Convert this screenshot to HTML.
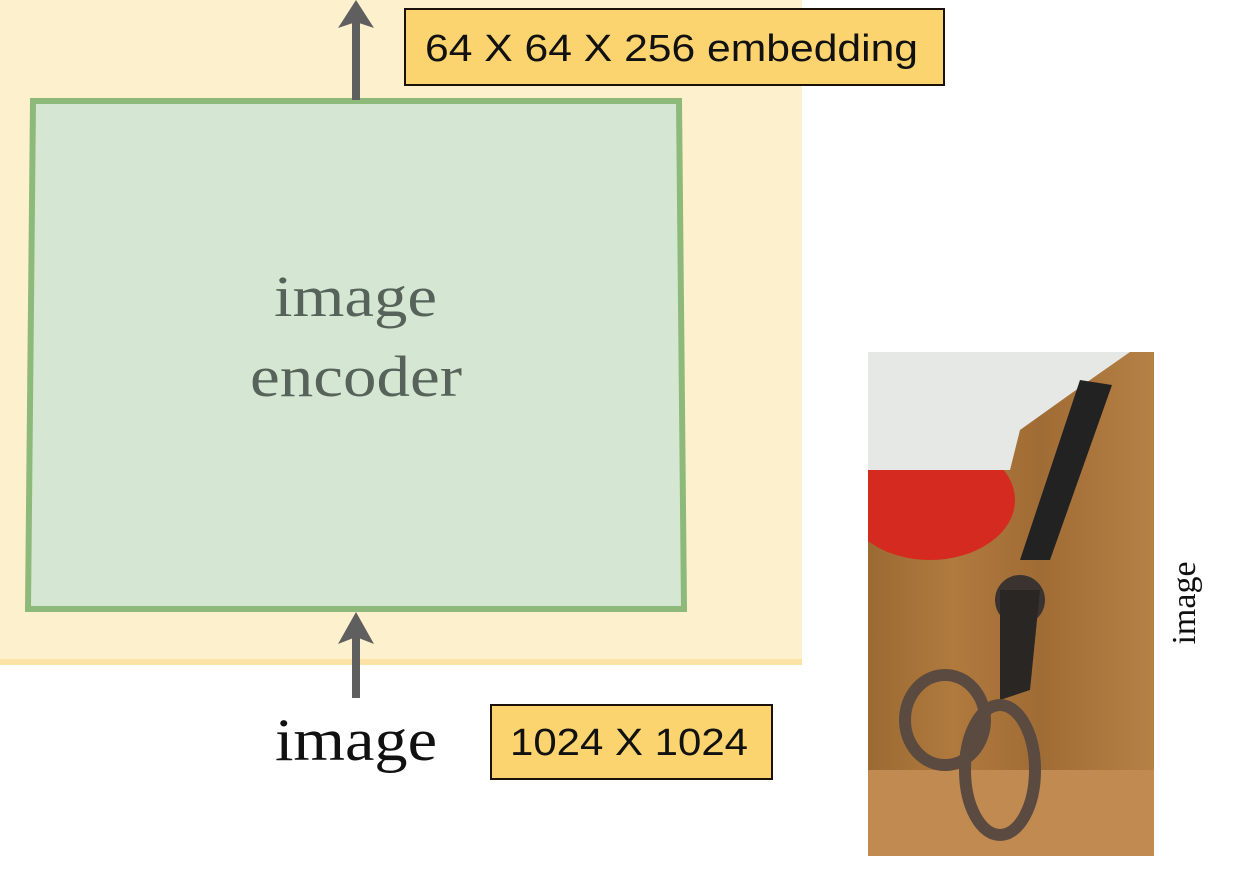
<!DOCTYPE html>
<html><head><style>
html,body{margin:0;padding:0;background:#fff;width:1246px;height:880px;overflow:hidden}
</style></head><body>
<svg width="1246" height="880" viewBox="0 0 1246 880" xmlns="http://www.w3.org/2000/svg">
<rect x="0" y="0" width="802" height="664" fill="#fdf0cc"/>
<rect x="0" y="659" width="802" height="6" fill="#fbe3a6"/>
<polygon points="33,101 679,101 684,609 28,609" fill="#d5e7d3" stroke="#8db97b" stroke-width="6" stroke-linejoin="miter"/>
<text x="274" y="316" font-family="Liberation Serif, serif" font-size="58" fill="#57635a" textLength="163" lengthAdjust="spacingAndGlyphs">image</text>
<text x="250" y="396" font-family="Liberation Serif, serif" font-size="58" fill="#57635a" textLength="212" lengthAdjust="spacingAndGlyphs">encoder</text>
<line x1="356" y1="100" x2="356" y2="20" stroke="#5f5f5f" stroke-width="8"/>
<polygon points="356,0 338,28 356,22 374,28" fill="#5f5f5f"/>
<line x1="356" y1="698" x2="356" y2="632" stroke="#5f5f5f" stroke-width="8"/>
<polygon points="356,612 338,644 356,637 374,644" fill="#5f5f5f"/>
<rect x="405" y="9" width="539" height="76" fill="#fbd46f" stroke="#1a1208" stroke-width="2"/>
<text x="425" y="61" font-family="Liberation Sans, sans-serif" font-size="38" fill="#111" textLength="493" lengthAdjust="spacingAndGlyphs">64 X 64 X 256 embedding</text>
<text x="275" y="760" font-family="Liberation Serif, serif" font-size="60" fill="#111" textLength="162" lengthAdjust="spacingAndGlyphs">image</text>
<rect x="491" y="705" width="281" height="74" fill="#fbd46f" stroke="#1a1208" stroke-width="2"/>
<text x="510" y="755" font-family="Liberation Sans, sans-serif" font-size="38" fill="#111" textLength="238" lengthAdjust="spacingAndGlyphs">1024 X 1024</text>
<defs>
<linearGradient id="wood" x1="0" y1="0" x2="1" y2="0">
<stop offset="0" stop-color="#9b6a33"/><stop offset="0.3" stop-color="#b07a3e"/><stop offset="0.6" stop-color="#a06c35"/><stop offset="1" stop-color="#b58145"/>
</linearGradient>
<clipPath id="ph"><rect x="868" y="352" width="286" height="504"/></clipPath>
</defs>
<g clip-path="url(#ph)">
<rect x="868" y="352" width="286" height="504" fill="url(#wood)"/>
<rect x="868" y="770" width="286" height="86" fill="#c08a50"/>
<ellipse cx="930" cy="500" rx="85" ry="60" fill="#d42a20"/>
<polygon points="868,352 1130,352 1090,380 1020,430 1010,470 868,470" fill="#e6e8e6"/>
<polygon points="1080,380 1112,385 1050,560 1020,560" fill="#222"/>
<circle cx="1020" cy="600" r="25" fill="#3a3330"/>
<polygon points="1000,590 1040,590 1030,690 1000,700" fill="#2a2624"/>
<ellipse cx="945" cy="720" rx="40" ry="45" fill="none" stroke="#5a4a40" stroke-width="12"/>
<ellipse cx="1000" cy="770" rx="35" ry="65" fill="none" stroke="#5a4a40" stroke-width="12"/>
</g>
<text x="0" y="0" transform="translate(1195,603) rotate(-90)" font-family="Liberation Serif, serif" font-size="34" fill="#111" text-anchor="middle">image</text>
</svg>
</body></html>
